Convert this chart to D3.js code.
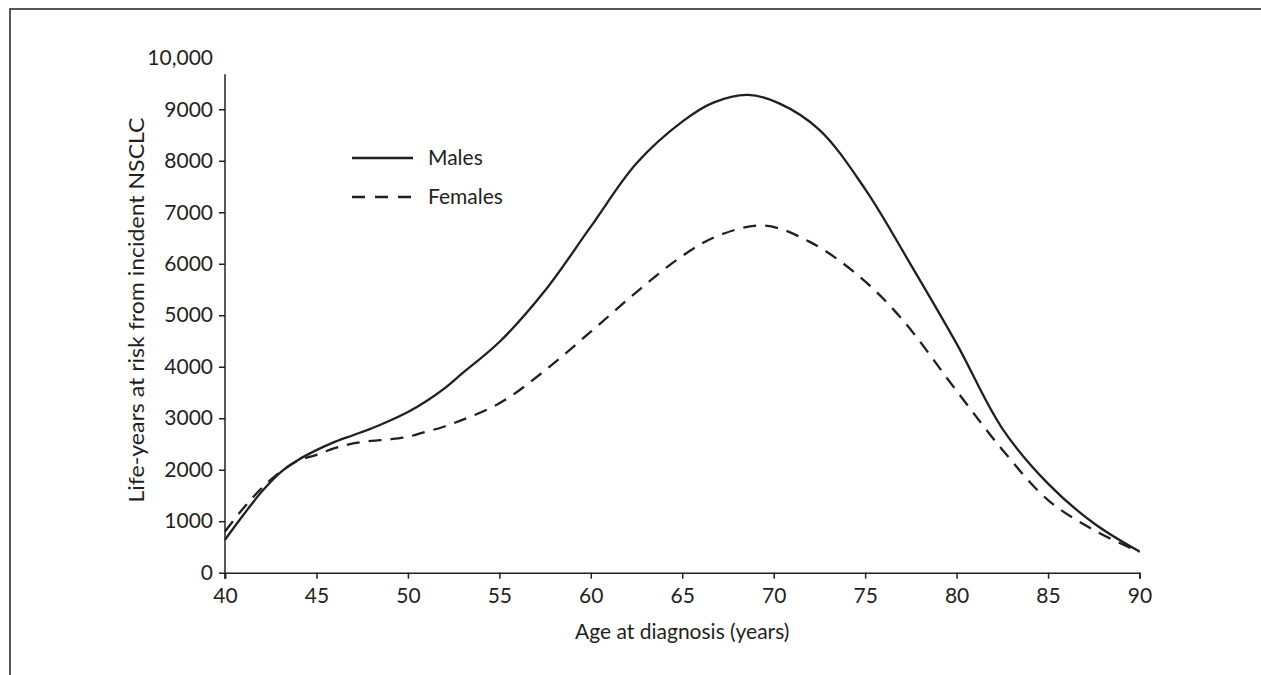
<!DOCTYPE html>
<html>
<head>
<meta charset="utf-8">
<script src="https://cdn.jsdelivr.net/npm/d3@7"></script>
<style>
  body { margin: 0; background: #fff; }
  text { font-family: Lato, "Open Sans", sans-serif; fill: #231f20; }
</style>
</head>
<body>
<div id="chart"></div>
<script>
// Data
var maleAges   = [40, 41, 42, 43, 44, 45, 46, 47, 48, 49, 50, 51, 52, 53, 55, 57.5, 60, 62.5, 65, 66.7, 68.6, 70.3, 72.5, 75, 77.5, 80, 82.5, 85, 87.5, 90];
var maleValues = [640, 1120, 1570, 1940, 2190, 2380, 2540, 2670, 2800, 2950, 3120, 3330, 3580, 3880, 4480, 5480, 6720, 7950, 8760, 9130, 9280, 9115, 8600, 7450, 5980, 4450, 2800, 1730, 960, 410];

var femaleAges   = [40, 41, 42, 43, 44, 45, 46, 47, 48, 49, 50, 51, 52, 55, 57.5, 60, 62.5, 65, 67, 69.5, 72, 74.7, 77, 80, 82.5, 85, 87.5, 90];
var femaleValues = [800, 1250, 1640, 1950, 2180, 2290, 2420, 2510, 2560, 2590, 2640, 2740, 2840, 3290, 3930, 4680, 5450, 6150, 6550, 6740, 6420, 5750, 4930, 3530, 2390, 1410, 830, 400];

var xTicks = [40, 45, 50, 55, 60, 65, 70, 75, 80, 85, 90];
var yTicks = [0, 1000, 2000, 3000, 4000, 5000, 6000, 7000, 8000, 9000, 10000];
var yTickLabels = ["0", "1000", "2000", "3000", "4000", "5000", "6000", "7000", "8000", "9000", "10,000"];

var seriesNames = ["Males", "Females"];

// Chart size
var svgWidth = 1261;
var svgHeight = 675;

var svg = d3.select("#chart")
  .append("svg")
  .attr("width", svgWidth)
  .attr("height", svgHeight);

// outer frame (only top and left edges show in the figure)
svg.append("rect")
  .attr("x", 10)
  .attr("y", 9)
  .attr("width", 1400)
  .attr("height", 800)
  .attr("fill", "none")
  .attr("stroke", "#231f20")
  .attr("stroke-width", 1.5);

// scales
var x = d3.scaleLinear().domain([40, 90]).range([225, 1139.5]);
var y = d3.scaleLinear().domain([0, 10000]).range([572.7, 57.8]);

// x axis
var xAxis = svg.append("g")
  .attr("transform", "translate(0," + y(0) + ")")
  .call(d3.axisBottom(x).tickValues(xTicks).tickSize(6).tickPadding(9));
xAxis.select(".domain").attr("stroke", "#231f20").attr("stroke-width", 1.5);
xAxis.selectAll(".tick line").attr("stroke", "#231f20").attr("stroke-width", 1.5);
xAxis.selectAll("text").attr("font-size", 21).style("font-family", "Lato, sans-serif").attr("fill", "#231f20");

// y axis
var yAxis = svg.append("g")
  .attr("transform", "translate(" + x(40) + ",0)")
  .call(d3.axisLeft(y).tickValues(yTicks).tickSize(6).tickPadding(6)
    .tickFormat(function(d, i) { return yTickLabels[i]; }));
yAxis.select(".domain").remove();
yAxis.selectAll(".tick line").attr("stroke", "#231f20").attr("stroke-width", 1.5);
// no tick mark at the 10,000 label
yAxis.selectAll(".tick").filter(function(d) { return d === 10000; }).select("line").remove();
yAxis.selectAll("text").attr("font-size", 21).style("font-family", "Lato, sans-serif").attr("fill", "#231f20");

// y axis line stops short of 10,000, runs slightly below 0
yAxis.append("line")
  .attr("x1", 0).attr("x2", 0)
  .attr("y1", y(9680)).attr("y2", y(0) + 6)
  .attr("stroke", "#231f20")
  .attr("stroke-width", 1.5);

// axis titles
svg.append("text")
  .attr("x", (x(40) + x(90)) / 2)
  .attr("y", 639)
  .attr("text-anchor", "middle")
  .attr("font-size", 21)
  .text("Age at diagnosis (years)");

svg.append("text")
  .attr("transform", "rotate(-90)")
  .attr("x", -310)
  .attr("y", 144)
  .attr("text-anchor", "middle")
  .attr("font-size", 21)
  .attr("textLength", 385)
  .attr("lengthAdjust", "spacingAndGlyphs")
  .text("Life-years at risk from incident NSCLC");

// lines
var line = d3.line()
  .x(function(d) { return x(d[0]); })
  .y(function(d) { return y(d[1]); })
  .curve(d3.curveCatmullRom.alpha(0.5));

var maleData = maleAges.map(function(a, i) { return [a, maleValues[i]]; });
var femaleData = femaleAges.map(function(a, i) { return [a, femaleValues[i]]; });

svg.append("path")
  .datum(femaleData)
  .attr("d", line)
  .attr("fill", "none")
  .attr("stroke", "#231f20")
  .attr("stroke-width", 2.3)
  .attr("stroke-dasharray", "13,9");

svg.append("path")
  .datum(maleData)
  .attr("d", line)
  .attr("fill", "none")
  .attr("stroke", "#231f20")
  .attr("stroke-width", 2.3);

// legend
var legend = svg.append("g").attr("transform", "translate(352,158)");
legend.append("line")
  .attr("x1", 0).attr("x2", 61).attr("y1", 0).attr("y2", 0)
  .attr("stroke", "#231f20").attr("stroke-width", 2.3);
legend.append("line")
  .attr("x1", 0).attr("x2", 61).attr("y1", 39).attr("y2", 39)
  .attr("stroke", "#231f20").attr("stroke-width", 2.3)
  .attr("stroke-dasharray", "13,10");
legend.selectAll("text.lab")
  .data(seriesNames)
  .enter()
  .append("text")
  .attr("class", "lab")
  .attr("x", 76)
  .attr("y", function(d, i) { return i * 39; })
  .attr("dy", "0.35em")
  .attr("font-size", 21)
  .text(function(d) { return d; });
</script>
</body>
</html>
